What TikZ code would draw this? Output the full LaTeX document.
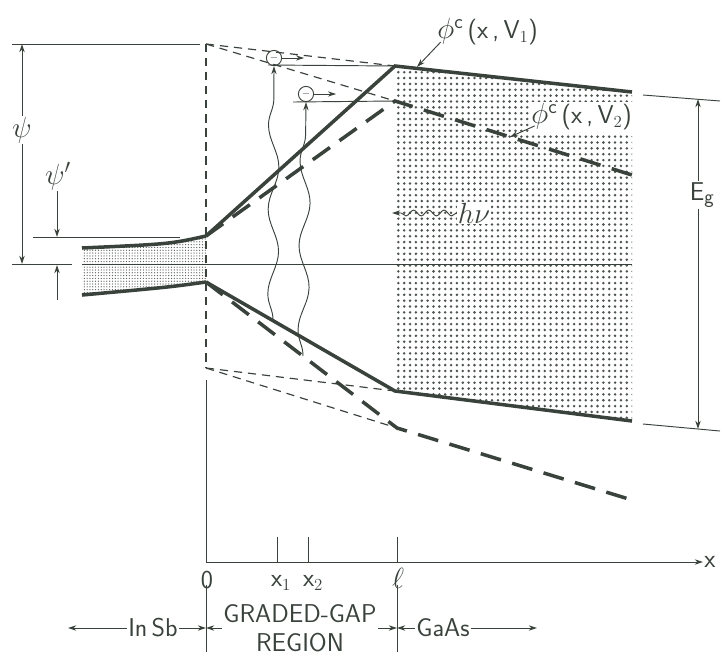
\documentclass[tikz,border=0pt]{standalone}
\usetikzlibrary{arrows.meta,patterns.meta,decorations.pathmorphing}
\definecolor{ink}{RGB}{58,66,60}

\begin{document}
\begin{tikzpicture}[
        x=0.03cm, y=-0.03cm,
        band/.style={ink, line width=3pt},
        bandtwo/.style={ink, line width=3pt, dash pattern=on 18pt off 10pt},
        guide/.style={ink, line width=1pt, dash pattern=on 7pt off 5pt},
        fineline/.style={ink, line width=0.8pt},
        dim/.style={fineline, -{Stealth[length=7pt, width=4.5pt]}},
        photon/.style={dim, decorate, decoration={snake, amplitude=4.5pt, segment length=72pt, post length=9pt}},
        lbl/.style={text=ink, font=\sffamily\fontsize{22}{25}\selectfont, inner sep=1pt},
        greek/.style={text=ink, font=\fontsize{27}{30}\selectfont, inner sep=1pt},
        electron/.style={draw=ink, fineline, circle, inner sep=0pt, minimum size=13pt, font=\sffamily\small},
        grain/.style={pattern={Dots[distance=5pt, radius=1.2pt]}, pattern color=ink!90},
        finegrain/.style={pattern={Dots[distance=2.4pt, radius=0.55pt]}, pattern color=ink!85}
    ]
    \useasboundingbox (0,0) rectangle (722,658);

    % --- Band edges ---
    \coordinate (cbIn) at (82,248);
    \coordinate (vbIn) at (82,295);
    \coordinate (cbO) at (206,236);
    \coordinate (vbO) at (206,282);
    \coordinate (cbOneL) at (395,66);
    \coordinate (cbOneR) at (632,92);
    \coordinate (cbTwoL) at (395,101);
    \coordinate (cbTwoR) at (632,175);
    \coordinate (vbOneL) at (395,391);
    \coordinate (vbOneR) at (632,421);
    \coordinate (vbTwoL) at (397,428);
    \coordinate (vbTwoR) at (632,500);
    \coordinate (vacO) at (206,44);
    \coordinate (lowO) at (206,368);

    % shaded gaps
    \fill[finegrain] (cbIn) .. controls (170,244) .. (cbO) -- (vbO) .. controls (170,287) .. (vbIn) -- cycle;
    \fill[grain] (cbOneL) -- (cbOneR) -- (vbOneR) -- (vbOneL) -- cycle;

    % --- Reference levels ---
    \draw[fineline] (12,44) -- (200,44);
    \draw[fineline] (33,237) -- (180,237);
    \draw[fineline] (12,264) -- (72,264);
    \draw[fineline] (82,264) -- (632,264);

    % dashed extensions
    \draw[guide] (vacO) -- (lowO);
    \draw[guide] (vacO) -- (cbOneL);
    \draw[guide] (vacO) -- (cbTwoL);
    \draw[guide] (lowO) -- (vbOneL);
    \draw[guide] (lowO) -- (vbTwoL);

    % --- Bands ---
    \draw[band] (cbIn) .. controls (170,244) .. (cbO);
    \draw[band] (vbIn) .. controls (170,287) .. (vbO);
    \draw[band] (cbO) -- (cbOneL) -- (cbOneR);
    \draw[band] (vbO) -- (vbOneL) -- (vbOneR);
    \draw[bandtwo] (cbO) -- (cbTwoL) -- (cbTwoR);
    \draw[bandtwo] (vbO) -- (vbTwoL) -- (vbTwoR);

    % --- Electrons and photons ---
    \node[electron] (eOne) at (274,58) {$-$};
    \node[electron] (eTwo) at (306,94) {$-$};
    \draw[fineline] (268,65) -- (cbOneL);
    \draw[fineline] (293,102) -- (cbTwoL);
    \draw[dim] (eOne.east) -- ++(22,0);
    \draw[dim] (eTwo.east) -- ++(22,0);
    \coordinate (hOne) at (273,320);
    \coordinate (hTwo) at (303,356);
    \draw[photon] (hOne) -- (eOne.south);
    \draw[photon] (hTwo) -- (eTwo.south);

    \node[greek, fill=white] (hnu) at (474,213) {$h\nu$};
    \coordinate (hnuTip) at (392,213);
    \draw[dim, decorate, decoration={snake, amplitude=2.5pt, segment length=13pt, post length=7pt}] (hnu.west) -- (hnuTip);

    % --- Labels of the bands ---
    \node[lbl, anchor=west] (phiOne) at (436,32) {\fontsize{27}{30}\selectfont$\phi^{\mathsf{c}}$\fontsize{22}{25}\selectfont\,(x\,,\,V$_1$)};
    \node[lbl, anchor=west, fill=white] (phiTwo) at (530,117) {\fontsize{27}{30}\selectfont$\phi^{\mathsf{c}}$\fontsize{22}{25}\selectfont\,(x\,,\,V$_2$)};
    \coordinate (pOne) at (417,67);
    \coordinate (pTwo) at (510,137);
    \draw[dim] ([xshift=4pt, yshift=4pt]phiOne.south west) -- (pOne);
    \draw[dim] ([xshift=4pt, yshift=5pt]phiTwo.south west) -- (pTwo);

    % --- Psi ---
    \node[greek] (psi) at (22,130) {$\psi$};
    \coordinate (psiT) at (22,44);
    \coordinate (psiB) at (22,264);
    \draw[dim] (psi) -- (psiT);
    \draw[dim] (psi) -- (psiB);
    \node[greek] (psip) at (58,176) {$\psi'$};
    \coordinate (psipT) at (57,237);
    \coordinate (psipB) at (57,300);
    \coordinate (psipE) at (57,265);
    \draw[dim] (psip.south -| psipT) -- (psipT);
    \draw[dim] (psipB) -- (psipE);

    % --- Eg ---
    \draw[fineline] (643,95) -- (720,101);
    \draw[fineline] (643,424) -- (720,431);
    \node[lbl, fill=white] (eg) at (702,195) {E$_{\textsf{\fontsize{17}{20}\selectfont g}}$};
    \coordinate (egT) at (698,99);
    \coordinate (egB) at (698,429);
    \draw[dim] (eg.north -| egT) -- (egT);
    \draw[dim] (eg.south -| egB) -- (egB);

    % --- Axis ---
    \coordinate (orig) at (206,562);
    \coordinate (xend) at (703,562);
    \draw[fineline] (206,380) -- (orig);
    \draw[dim] (orig) -- (xend);
    \node[lbl, anchor=west] (xlab) at (xend) {x};
    \foreach \xx/\nm in {277/xone, 308/xtwo, 397/ell}
        \draw[fineline] (\xx,537) -- (\xx,562) coordinate (\nm);
    \node[lbl] (zero) at (207,580) {0};
    \node[lbl] at (281,583) {x$_1$};
    \node[lbl] at (313,583) {x$_2$};
    \node[greek] at (398,578) {$\ell$};

    % --- Regions ---
    \draw[fineline] (206,585) -- (206,652);
    \draw[fineline] (397,585) -- (397,652);
    \node[lbl] (insb) at (153,628) {In\,Sb};
    \node[lbl, align=center] (graded) at (300,628) {GRADED-GAP\\REGION};
    \node[lbl] (gaas) at (443,628) {GaAs};
    \coordinate (leftEnd) at (68,628);
    \coordinate (rightEnd) at (537,628);
    \coordinate (bOne) at (206,628);
    \coordinate (bTwo) at (397,628);
    \draw[dim] (insb.west) -- (leftEnd);
    \draw[dim] (insb.east) -- (bOne);
    \draw[dim] (graded.west |- bOne) -- (bOne);
    \draw[dim] (graded.east |- bTwo) -- (bTwo);
    \draw[dim] (gaas.west) -- (bTwo);
    \draw[dim] (gaas.east) -- (rightEnd);

\end{tikzpicture}
\end{document}
